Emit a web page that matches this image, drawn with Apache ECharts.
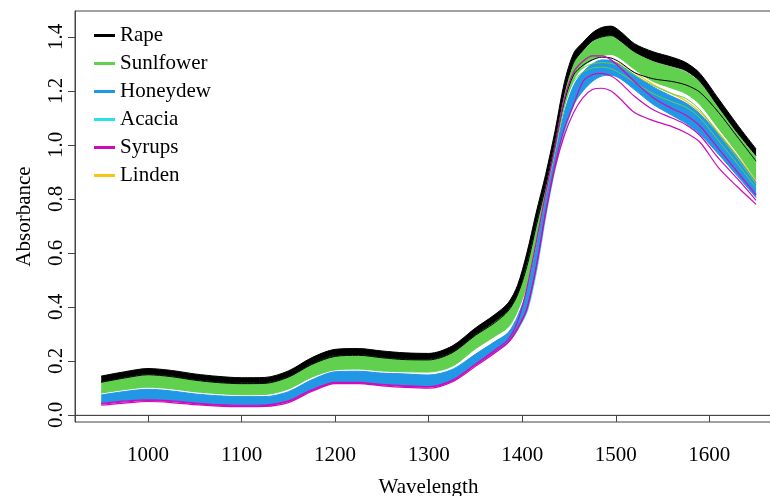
<!DOCTYPE html>
<html>
<head>
<meta charset="utf-8">
<title>Absorbance spectra</title>
<script src="https://cdn.jsdelivr.net/npm/echarts@6/dist/echarts.min.js"></script>
<style>
  html, body { margin: 0; padding: 0; background: #fff; }
  #chart { width: 770px; height: 496px; }
</style>
</head>
<body>
<div id="chart"></div>
<script>
// wavelength grid (nm)
const wavelengths = [950, 975, 1000, 1025, 1050, 1075, 1100, 1125, 1150, 1175,
  1200, 1225, 1250, 1275, 1300, 1325, 1350, 1370, 1385, 1395,
  1405, 1415, 1425, 1435, 1445, 1455, 1465, 1475, 1485, 1495,
  1505, 1520, 1540, 1560, 1575, 1590, 1610, 1630, 1650]

const xTicks = [1000, 1100, 1200, 1300, 1400, 1500, 1600]
const yTicks = [0, 0.2, 0.4, 0.6, 0.8, 1.0, 1.2, 1.4]
const classNames = ["Rape", "Sunlfower", "Honeydew", "Acacia", "Syrups", "Linden"]

// Rape - upper / lower edge of the band, plus one lower spectrum
const rapeHigh = [0.144, 0.160, 0.172, 0.165, 0.152, 0.143, 0.138, 0.139, 0.163, 0.212,
  0.243, 0.246, 0.237, 0.230, 0.228, 0.255, 0.322, 0.370, 0.415, 0.480,
  0.600, 0.750, 0.890, 1.050, 1.230, 1.340, 1.380, 1.415, 1.435, 1.440,
  1.420, 1.375, 1.345, 1.325, 1.305, 1.265, 1.170, 1.075, 0.985]
const rapeLow = [0.124, 0.140, 0.152, 0.145, 0.132, 0.123, 0.119, 0.120, 0.143, 0.190,
  0.220, 0.224, 0.215, 0.208, 0.207, 0.233, 0.298, 0.345, 0.390, 0.450,
  0.565, 0.715, 0.860, 1.020, 1.195, 1.305, 1.350, 1.385, 1.400, 1.405,
  1.385, 1.345, 1.312, 1.292, 1.275, 1.235, 1.140, 1.045, 0.960]
const rapeThin = [0.121, 0.137, 0.149, 0.142, 0.129, 0.120, 0.116, 0.117, 0.140, 0.187,
  0.217, 0.221, 0.212, 0.205, 0.204, 0.230, 0.295, 0.340, 0.385, 0.445,
  0.550, 0.700, 0.845, 1.000, 1.160, 1.260, 1.295, 1.315, 1.325, 1.322,
  1.305, 1.268, 1.245, 1.235, 1.222, 1.195, 1.120, 1.030, 0.940]

// Sunflower
const sunHigh = [0.123, 0.139, 0.151, 0.144, 0.131, 0.122, 0.118, 0.119, 0.142, 0.189,
  0.219, 0.223, 0.214, 0.207, 0.206, 0.232, 0.297, 0.343, 0.388, 0.447,
  0.560, 0.710, 0.857, 1.017, 1.190, 1.300, 1.345, 1.380, 1.397, 1.402,
  1.382, 1.342, 1.308, 1.288, 1.270, 1.230, 1.135, 1.040, 0.955]
const sunLow = [0.081, 0.094, 0.103, 0.097, 0.086, 0.079, 0.075, 0.076, 0.096, 0.140,
  0.167, 0.170, 0.163, 0.160, 0.159, 0.180, 0.245, 0.290, 0.325, 0.385,
  0.480, 0.640, 0.815, 0.975, 1.140, 1.240, 1.290, 1.315, 1.330, 1.335,
  1.320, 1.280, 1.235, 1.210, 1.190, 1.150, 1.060, 0.970, 0.870]
const sunThinA = [0.085, 0.098, 0.107, 0.101, 0.090, 0.083, 0.079, 0.080, 0.100, 0.144,
  0.171, 0.174, 0.167, 0.164, 0.163, 0.184, 0.249, 0.294, 0.330, 0.392,
  0.490, 0.650, 0.825, 0.985, 1.150, 1.250, 1.285, 1.300, 1.305, 1.302,
  1.290, 1.258, 1.220, 1.190, 1.172, 1.130, 1.040, 0.950, 0.855]
const sunThinB = [0.090, 0.103, 0.112, 0.106, 0.095, 0.088, 0.084, 0.085, 0.105, 0.149,
  0.176, 0.179, 0.172, 0.169, 0.168, 0.189, 0.254, 0.299, 0.336, 0.398,
  0.498, 0.658, 0.832, 0.992, 1.155, 1.235, 1.270, 1.285, 1.288, 1.282,
  1.265, 1.232, 1.190, 1.160, 1.140, 1.100, 1.015, 0.930, 0.840]

// Honeydew
const honHigh = [0.074, 0.087, 0.095, 0.089, 0.078, 0.071, 0.068, 0.068, 0.086, 0.130,
  0.160, 0.162, 0.155, 0.152, 0.148, 0.168, 0.225, 0.270, 0.305, 0.365,
  0.460, 0.620, 0.800, 0.960, 1.120, 1.220, 1.270, 1.300, 1.315, 1.312,
  1.295, 1.260, 1.215, 1.180, 1.155, 1.115, 1.040, 0.955, 0.860]
const honLow = [0.045, 0.053, 0.058, 0.054, 0.046, 0.040, 0.038, 0.039, 0.054, 0.095,
  0.123, 0.123, 0.115, 0.110, 0.107, 0.130, 0.190, 0.235, 0.275, 0.325,
  0.400, 0.560, 0.760, 0.935, 1.065, 1.150, 1.200, 1.235, 1.255, 1.258,
  1.245, 1.205, 1.150, 1.110, 1.080, 1.040, 0.965, 0.885, 0.805]

// Acacia
const acacia = [0.048, 0.056, 0.061, 0.057, 0.049, 0.043, 0.041, 0.042, 0.057, 0.098,
  0.126, 0.126, 0.118, 0.113, 0.110, 0.132, 0.190, 0.238, 0.272, 0.318,
  0.385, 0.535, 0.740, 0.915, 1.050, 1.150, 1.215, 1.250, 1.265, 1.265,
  1.250, 1.210, 1.160, 1.120, 1.095, 1.055, 0.975, 0.895, 0.815]

// Syrups
const syrupLow = [0.036, 0.044, 0.050, 0.046, 0.038, 0.033, 0.031, 0.032, 0.046, 0.087,
  0.116, 0.116, 0.108, 0.102, 0.099, 0.122, 0.180, 0.228, 0.268, 0.318,
  0.390, 0.545, 0.745, 0.915, 1.035, 1.120, 1.175, 1.205, 1.210, 1.200,
  1.170, 1.120, 1.090, 1.068, 1.045, 1.010, 0.915, 0.845, 0.780]
const syrupMid = [0.040, 0.048, 0.053, 0.050, 0.042, 0.036, 0.034, 0.035, 0.050, 0.091,
  0.119, 0.119, 0.111, 0.106, 0.103, 0.126, 0.185, 0.232, 0.271, 0.322,
  0.395, 0.550, 0.750, 0.925, 1.060, 1.150, 1.235, 1.260, 1.265, 1.255,
  1.230, 1.180, 1.130, 1.100, 1.075, 1.035, 0.950, 0.875, 0.795]
const syrupTop = [0.043, 0.051, 0.056, 0.052, 0.044, 0.038, 0.036, 0.037, 0.052, 0.093,
  0.121, 0.121, 0.113, 0.108, 0.105, 0.128, 0.188, 0.238, 0.280, 0.345,
  0.470, 0.640, 0.820, 0.990, 1.170, 1.270, 1.310, 1.330, 1.330, 1.315,
  1.285, 1.235, 1.175, 1.135, 1.110, 1.070, 0.985, 0.900, 0.815]

// Linden (hidden inside the Honeydew band except after the peak)
const linden = [0.060, 0.073, 0.080, 0.075, 0.064, 0.057, 0.054, 0.055, 0.072, 0.115,
  0.145, 0.147, 0.140, 0.137, 0.133, 0.153, 0.210, 0.252, 0.288, 0.345,
  0.440, 0.595, 0.780, 0.945, 1.095, 1.195, 1.250, 1.280, 1.295, 1.310,
  1.300, 1.268, 1.224, 1.190, 1.163, 1.122, 1.046, 0.960, 0.865]

// R palette colours
const classColors = {
  Rape: "#000000",
  Sunlfower: "#61D04F",
  Honeydew: "#2297E6",
  Acacia: "#28E2E5",
  Syrups: "#CD0BBC",
  Linden: "#F5C710"
}

const fontFamily = "Liberation Serif"

// [value, wavelength] points, value put first so that stacking works on y
const toPoints = (vals) => vals.map((v, i) => [v, wavelengths[i]])

// one spectrum line
const lineSeries = (name, vals, width) => {
  const color = classColors[name]
  return {
    name: name,
    type: "line",
    data: toPoints(vals),
    encode: { x: 1, y: 0 },
    symbol: "none",
    smooth: 0.3,
    silent: true,
    itemStyle: { color: color },
    lineStyle: { color: color, width: width }
  }
}

// filled band between two spectra (stacked: low + (high - low))
const bandSeries = (name, low, high) => {
  const stackId = name + "_band"
  let base = lineSeries(name, low, 1)
  base.stack = stackId
  let band = lineSeries(name, high.map((v, i) => v - low[i]), 1)
  band.stack = stackId
  band.areaStyle = { color: classColors[name], opacity: 1 }
  return [base, band]
}

let seriesData = []
seriesData.push(lineSeries("Acacia", acacia, 2))
seriesData.push(lineSeries("Linden", linden, 1.2))
seriesData.push(...bandSeries("Honeydew", honLow, honHigh))
seriesData.push(...bandSeries("Sunlfower", sunLow, sunHigh))
seriesData.push(lineSeries("Sunlfower", sunThinA, 1))
seriesData.push(lineSeries("Sunlfower", sunThinB, 1))
seriesData.push(...bandSeries("Rape", rapeLow, rapeHigh))
seriesData.push(lineSeries("Rape", rapeThin, 1))
seriesData.push(lineSeries("Syrups", syrupLow, 1.2))
seriesData.push(lineSeries("Syrups", syrupMid, 1.2))
seriesData.push(lineSeries("Syrups", syrupTop, 1.2))

// keep painting order = plotting order (lines must not float above later areas)
seriesData.forEach((s, i) => { s.z = 2 + i })

// grey zero line
seriesData[0].markLine = {
  silent: true,
  symbol: "none",
  label: { show: false },
  lineStyle: { color: "#d4d4d4", width: 1.5, type: "solid" },
  data: [{ yAxis: 0 }]
}

const chart = echarts.init(document.getElementById("chart"))

let option = {
  animation: false,
  backgroundColor: "#ffffff",
  grid: {
    left: 75,
    top: 11,
    width: 707,
    height: 411,
    outerBoundsMode: "none",
    show: true,
    borderColor: "#444444",
    borderWidth: 1,
    backgroundColor: "transparent"
  },
  legend: {
    orient: "vertical",
    left: 89,
    top: 20,
    itemWidth: 21,
    itemHeight: 3,
    itemGap: 7,
    icon: "rect",
    selectedMode: false,
    textStyle: { fontFamily: fontFamily, fontSize: 21, color: "#000000" },
    data: classNames.map((n) => ({ name: n, itemStyle: { color: classColors[n] } }))
  },
  xAxis: {
    type: "value",
    min: 922,
    max: 1677.7,
    z: 50,
    name: "Wavelength",
    nameLocation: "middle",
    nameGap: 55,
    nameTextStyle: { fontFamily: fontFamily, fontSize: 21, color: "#000000" },
    axisLine: { show: true, lineStyle: { color: "#444444", width: 1 } },
    axisTick: { show: true, length: 7, customValues: xTicks, lineStyle: { color: "#444444" } },
    axisLabel: {
      customValues: xTicks,
      fontFamily: fontFamily,
      fontSize: 21,
      color: "#000000",
      margin: 23,
      formatter: (v) => String(v)
    },
    splitLine: { show: false }
  },
  yAxis: {
    type: "value",
    min: -0.026,
    max: 1.496,
    z: 50,
    name: "Absorbance",
    nameLocation: "middle",
    nameGap: 40,
    nameTextStyle: { fontFamily: fontFamily, fontSize: 21, color: "#000000" },
    axisLine: { show: true, lineStyle: { color: "#444444", width: 1 } },
    axisTick: { show: true, length: 7, customValues: yTicks, lineStyle: { color: "#444444" } },
    axisLabel: {
      customValues: yTicks,
      rotate: 90,
      fontFamily: fontFamily,
      fontSize: 21,
      color: "#000000",
      margin: 8,
      formatter: (v) => v.toFixed(1)
    },
    splitLine: { show: false }
  },
  series: seriesData
}

chart.setOption(option)
</script>
</body>
</html>
